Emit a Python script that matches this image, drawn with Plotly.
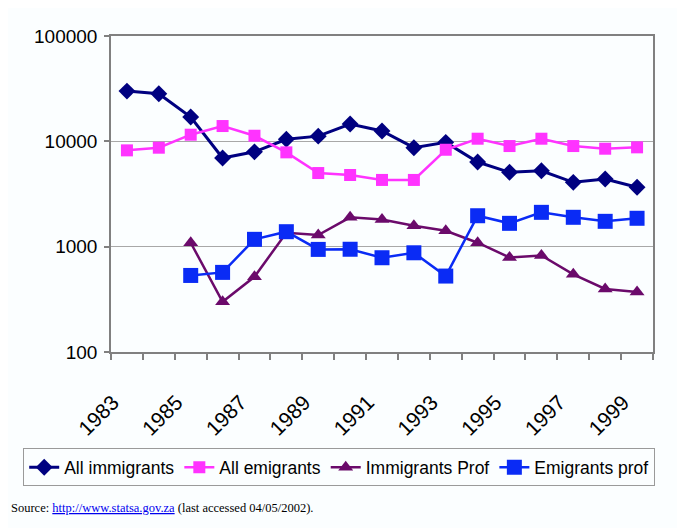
import plotly.graph_objects as go

years = list(range(1983, 2000))
all_immigrants = [30000, 28300, 17000, 6940, 7950, 10470, 11200, 14600, 12530, 8700, 9780, 6360, 5080, 5260, 4080, 4390, 3660]
all_emigrants = [8210, 8700, 11560, 13970, 11300, 7860, 5000, 4790, 4300, 4300, 8320, 10590, 9020, 10590, 9020, 8510, 8770]
immigrants_prof = [None, None, 1090, 300, 518, 1355, 1290, 1900, 1815, 1580, 1415, 1090, 790, 826, 546, 397, 372]
emigrants_prof = [None, None, 533, 570, 1174, 1387, 942, 945, 785, 875, 526, 1966, 1665, 2118, 1900, 1740, 1860]
tick_years = [1983, 1985, 1987, 1989, 1991, 1993, 1995, 1997, 1999]

fig = go.Figure()
fig.add_trace(go.Scatter(x=years, y=all_immigrants, name="All immigrants", mode="lines+markers",
                         line=dict(color="#000080", width=3),
                         marker=dict(symbol="diamond", size=13, color="#000080")))
fig.add_trace(go.Scatter(x=years, y=all_emigrants, name="All emigrants", mode="lines+markers",
                         line=dict(color="#FF33FF", width=2.5),
                         marker=dict(symbol="square", size=12, color="#FF33FF")))
fig.add_trace(go.Scatter(x=years, y=immigrants_prof, name="Immigrants Prof", mode="lines+markers",
                         line=dict(color="#6B0A6B", width=2.5),
                         marker=dict(symbol="triangle-up", size=13, color="#6B0A6B")))
fig.add_trace(go.Scatter(x=years, y=emigrants_prof, name="Emigrants prof", mode="lines+markers",
                         line=dict(color="#0A2BF5", width=2.5),
                         marker=dict(symbol="square", size=15, color="#0A2BF5")))

bg = "#FBFEFF"
fig.update_layout(
    width=685, height=528,
    margin=dict(l=103, r=40, t=28, b=184),
    paper_bgcolor=bg, plot_bgcolor=bg,
    font=dict(family="Liberation Sans, Arial", color="#000000"),
    showlegend=True,
    legend=dict(orientation="h", x=-0.162, y=-0.305, xanchor="left", yanchor="top",
                bordercolor="#9A9A9A", borderwidth=1, bgcolor=bg,
                font=dict(size=17.5), itemwidth=30, tracegroupgap=0),
    annotations=[dict(
        text="Source: <span style='color:#0000EE'><u>http://www.statsa.gov.za</u></span> (last accessed 04/05/2002).",
        xref="paper", yref="paper", x=-0.188, y=-0.494, xanchor="left", yanchor="middle",
        showarrow=False, font=dict(family="Liberation Serif, Times New Roman", size=12.5, color="#000000"))],
)
fig.update_xaxes(
    range=[1982.5, 1999.5], tickmode="array", tickvals=tick_years,
    ticktext=[str(y) for y in tick_years], tickangle=-45, ticks="",
    tickfont=dict(size=21), showgrid=False, zeroline=False,
    showline=True, linecolor="#808080", linewidth=1.5, mirror=True,
    ticklabelstandoff=28, ticklabelshift=-14,
    minor=dict(tickmode="linear", tick0=1982.5, dtick=1, ticks="outside", ticklen=6,
               tickcolor="#808080", tickwidth=1.5, showgrid=False),
)
fig.update_yaxes(
    type="log", range=[2, 5], tickvals=[100, 1000, 10000, 100000],
    ticktext=["100", "1000", "10000", "100000"], tickfont=dict(size=19),
    ticks="outside", ticklen=5, tickcolor="#808080", tickwidth=1.5,
    ticklabelstandoff=3,
    showgrid=True, gridcolor="#A8A8A8", gridwidth=1, zeroline=False,
    showline=True, linecolor="#808080", linewidth=1.5, mirror=True,
)
fig.write_html("out.html")
